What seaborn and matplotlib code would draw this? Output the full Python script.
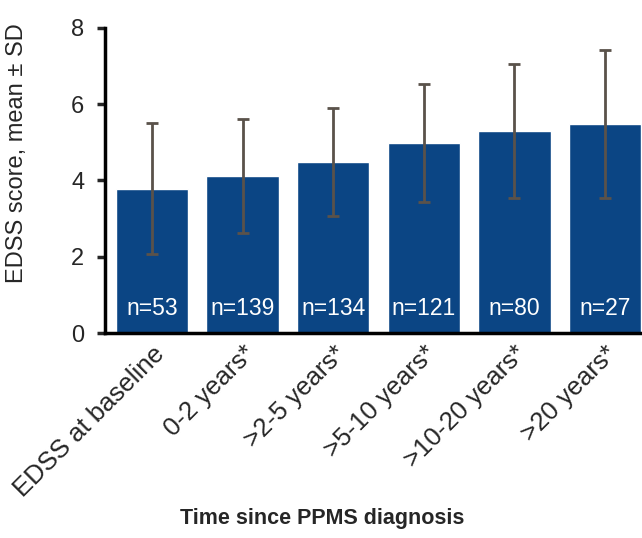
import numpy as np
import pandas as pd
import seaborn as sns
from matplotlib import pyplot as plt

categories = ['EDSS at baseline', '0-2 years*', '>2-5 years*', '>5-10 years*',
              '>10-20 years*', '>20 years*']
edss_mean = [3.78, 4.12, 4.49, 4.98, 5.29, 5.48]
edss_sd = [1.72, 1.50, 1.42, 1.54, 1.76, 1.94]
n_patients = [53, 139, 134, 121, 80, 27]

sns.set_style('white')
plt.rcParams['font.family'] = ['Liberation Sans', 'DejaVu Sans']

df = pd.DataFrame({'group': categories, 'edss': edss_mean})

fig = plt.figure(figsize=(6.42, 5.38), dpi=100)
ax = fig.add_axes([0.1636, 0.381, 0.8364, 0.567])

sns.barplot(data=df, x='group', y='edss', color='#0b4584', saturation=1,
            width=0.8, ax=ax)
ax.errorbar(np.arange(len(categories)), edss_mean, yerr=edss_sd, fmt='none',
            ecolor='#5a524a', elinewidth=2, capsize=4.5, capthick=2)

for i, n in enumerate(n_patients):
    ax.text(i, 0.65, f'n={n}', color='white', ha='center', va='center',
            fontsize=16.5)

ax.set_ylim(0, 8)
ax.set_xlim(-0.52, 5.41)
ax.set_yticks([0, 2, 4, 6, 8])
for s in ['top', 'right']:
    ax.spines[s].set_visible(False)
for s in ['left', 'bottom']:
    ax.spines[s].set_linewidth(2.5)
    ax.spines[s].set_color('black')
ax.tick_params(axis='y', length=6, width=2.5, direction='out', left=True,
               labelsize=17, pad=9)
ax.tick_params(axis='x', length=0, labelsize=18.5, pad=6)
plt.setp(ax.get_xticklabels(), rotation=45, ha='right', rotation_mode='anchor')

ax.set_ylabel('EDSS score, mean ± SD', fontsize=17)
ax.yaxis.set_label_coords(-0.143, 0.59)
ax.set_xlabel('Time since PPMS diagnosis', fontsize=15.5, fontweight='bold')
ax.xaxis.set_label_coords(0.405, -0.575)

plt.savefig('out.png', dpi=100)
